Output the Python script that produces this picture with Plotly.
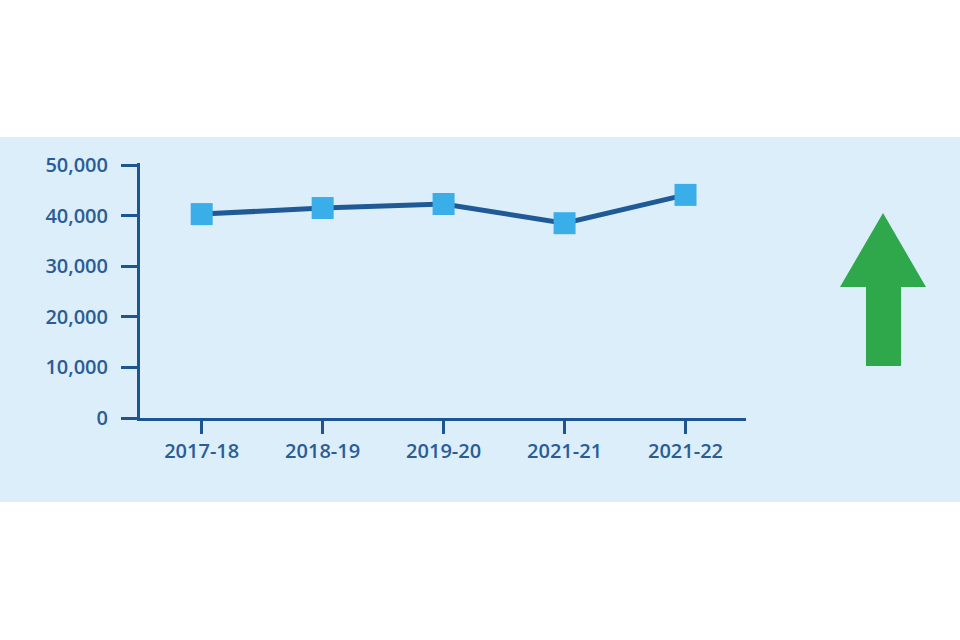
import plotly.graph_objects as go

years = ['2017-18', '2018-19', '2019-20', '2021-21', '2021-22']
values = [40300, 41500, 42300, 38500, 44100]
y_ticks = [0, 10000, 20000, 30000, 40000, 50000]

text_col = '#2a5d96'
axis_col = '#1d5592'

fig = go.Figure()
fig.add_trace(go.Scatter(
    x=years, y=values, mode='lines+markers',
    line=dict(color='#1f5a97', width=5),
    marker=dict(symbol='square', size=22, color='#3aaee8'),
    showlegend=False, cliponaxis=False,
))

# light blue band behind the chart
fig.add_shape(type='rect', xref='paper', yref='paper',
              x0=-0.232, x1=1.355, y0=-0.329, y1=1.102,
              fillcolor='#ddeefb', line_width=0, layer='below')

# green up arrow
arrow = ('M 1.2261 0.8039 L 1.2970 0.5137 L 1.2558 0.5137 L 1.2558 0.2039 '
         'L 1.1980 0.2039 L 1.1980 0.5137 L 1.1551 0.5137 Z')
fig.add_shape(type='path', xref='paper', yref='paper', path=arrow,
              fillcolor='#2ea84a', line_width=0)

fig.update_layout(
    width=960, height=640,
    margin=dict(l=140, r=214, t=163, b=222),
    paper_bgcolor='white', plot_bgcolor='rgba(0,0,0,0)',
    font=dict(family='Open Sans', size=20, color=text_col, weight=600),
    xaxis=dict(range=[-0.51, 4.5], showgrid=False, zeroline=False,
               showline=True, linecolor=axis_col, linewidth=3,
               ticks='outside', ticklen=13, tickwidth=3, tickcolor=axis_col,
               ticklabelstandoff=0),
    yaxis=dict(range=[0, 50400], tickvals=y_ticks, tickformat=',',
               showgrid=False, zeroline=False,
               showline=True, linecolor=axis_col, linewidth=3,
               ticks='outside', ticklen=16, tickwidth=3, tickcolor=axis_col,
               ticklabelstandoff=9),
)

fig.write_html('out.html', config={'displayModeBar': False},
               post_script="document.body.style.margin = '0';")
